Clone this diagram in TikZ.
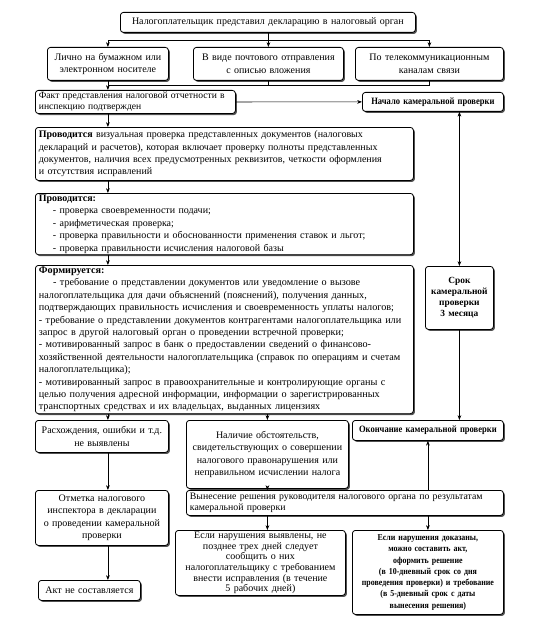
\documentclass[tikz,border=0pt]{standalone}
\usepackage{fontspec}
\setmainfont{Liberation Serif}
\newfontfamily\narrowserif{Liberation Serif}[FakeStretch=0.88]
\usetikzlibrary{arrows.meta,positioning,shadows}

\begin{document}
\begin{tikzpicture}[
  x=1pt, y=1pt,
  font=\fontsize{10}{12.4}\selectfont,
  process/.style={rectangle, draw, line width=0.8pt, rounded corners=3pt, fill=white, anchor=north west,
    inner xsep=3.5pt, inner ysep=1.5pt,
    drop shadow={shadow xshift=1.5pt, shadow yshift=-1.5pt, fill=black!80, opacity=0.85}},
  milestone/.style={process, font=\narrowserif\fontsize{9.7}{11}\selectfont\bfseries, align=center},
  arrow/.style={-{Stealth[length=1.7mm, width=1.3mm]}, semithick}
]
\useasboundingbox (0,0) rectangle (553,-623);

\node[process, align=center, text width=288pt, minimum height=20pt] (decl) at (120,-12) {Налогоплательщик представил декларацию в налоговый орган};
\node[process, align=center, text width=114pt, minimum height=33pt] (paper) at (47,-47) {Лично на бумажном или\\электронном носителе};
\node[process, align=center, text width=143pt, minimum height=33pt] (post) at (193,-47) {В виде почтового отправления\\с описью вложения};
\node[process, align=center, text width=141pt, minimum height=33pt] (telecom) at (355,-47) {По телекоммуникационным\\каналам связи};
\node[process, align=left, text width=193pt, minimum height=23pt, font=\fontsize{9.6}{11.5}\selectfont] (fact) at (35,-90) {Факт представления налоговой отчетности в\\инспекцию подтвержден};
\node[milestone, text width=134pt, minimum height=19pt] (start) at (362,-92) {Начало камеральной проверки};
\node[process, align=left, text width=371pt, minimum height=53pt] (visual) at (35,-127) {\textbf{Проводится} визуальная проверка представленных документов (налоговых\\деклараций и расчетов), которая включает проверку полноты представленных\\документов, наличия всех предусмотренных реквизитов, четкости оформления\\и отсутствия исправлений};
\node[process, align=left, text width=371pt, minimum height=59pt] (checks) at (35,-193) {\textbf{Проводится:}\\
  \hspace*{1.4em}- проверка своевременности подачи;\\
  \hspace*{1.4em}- арифметическая проверка;\\
  \hspace*{1.4em}- проверка правильности и обоснованности применения ставок и льгот;\\
  \hspace*{1.4em}- проверка правильности исчисления налоговой базы};
\node[process, align=left, text width=371pt, minimum height=142pt, font=\fontsize{10.2}{12.4}\selectfont] (requests) at (35,-265) {\textbf{Формируется:}\\
  \hspace*{1.4em}- требование о представлении документов или уведомление о вызове\\
  налогоплательщика для дачи объяснений (пояснений), получения данных,\\
  подтверждающих правильность исчисления и своевременность уплаты налогов;\\
  - требование о представлении документов контрагентами налогоплательщика или\\
  запрос в другой налоговый орган о проведении встречной проверки;\\
  - мотивированный запрос в банк о предоставлении сведений о финансово-\\
  хозяйственной деятельности налогоплательщика (справок по операциям и счетам\\
  налогоплательщика);\\
  - мотивированный запрос в правоохранительные и контролирующие органы с\\
  целью получения адресной информации, информации о зарегистрированных\\
  транспортных средствах и их владельцах, выданных лицензиях};
\node[milestone, text width=61pt, minimum height=63pt, font=\fontsize{9.4}{10.8}\selectfont\bfseries] (term) at (425,-266) {Срок\\камеральной\\проверки\\3 месяца};
\node[process, align=center, text width=126pt, minimum height=32pt] (noerr) at (35,-420) {Расхождения, ошибки и т.д.\\не выявлены};
\node[process, align=center, text width=155pt, minimum height=68pt] (offence) at (186,-420) {Наличие обстоятельств,\\свидетельствующих о совершении\\налогового правонарушения или\\неправильном исчислении налога};
\node[milestone, text width=144pt, minimum height=20pt] (finish) at (352,-420) {Окончание камеральной проверки};
\node[process, align=center, text width=126pt, minimum height=55pt] (mark) at (35,-490) {Отметка налогового\\инспектора в декларации\\о проведении камеральной\\проверки};
\node[process, align=left, text width=310pt, minimum height=25pt, font=\fontsize{9.8}{11.5}\selectfont] (decision) at (186,-490) {Вынесение решения руководителя налогового органа по результатам\\камеральной проверки};
\node[process, align=center, text width=95pt, minimum height=20pt] (noact) at (38,-580) {Акт не составляется};
\node[process, align=center, text width=163pt, minimum height=65pt, font=\fontsize{10}{10.6}\selectfont] (found) at (175,-530) {Если нарушения выявлены, не\\позднее трех дней следует\\сообщить о них\\налогоплательщику с требованием\\внести исправления (в течение\\5 рабочих дней)};
\node[milestone, text width=144pt, minimum height=84pt, font=\narrowserif\fontsize{9}{11.3}\selectfont\bfseries] (proven) at (352,-530) {Если нарушения доказаны,\\можно составить акт,\\оформить решение\\(в 10-дневный срок со дня\\проведения проверки) и требование\\(в 5-дневный срок с даты\\вынесения решения)};

% ways of filing
\coordinate (split) at (decl.south |- 0,-40);
\coordinate (merge) at (paper.south |- 0,-85);
\draw (decl.south) -- (split);
\draw[arrow] (split) -| (paper.north);
\draw[arrow] (split) -- (post.north |- split) -- (post.north);
\draw[arrow] (split) -| (telecom.north);
\draw (paper.south) -- (merge) -| (telecom.south);
\draw (post.south) -- (post.south |- merge);
\draw[arrow] (merge) -- (fact.north -| merge);

% left column
\draw[arrow] (fact.east) -- (start.west);
\draw[arrow] (fact.south -| paper) -- (visual.north -| paper);
\draw[arrow] (visual.south -| paper) -- (checks.north -| paper);
\draw[arrow] (checks.south -| paper) -- (requests.north -| paper);
\draw[arrow] (requests.south -| paper) -- (noerr.north -| paper);
\draw[arrow] (requests.south -| offence) -- (offence.north);
\draw[arrow] (noerr.south -| paper) -- (mark.north -| paper);
\draw[arrow] (mark.south -| paper) -- (noact.north -| paper);

% terms of the audit
\draw[{Stealth[length=1.7mm, width=1.3mm]}-{Stealth[length=1.7mm, width=1.3mm]}, semithick] (start.south -| term) -- (term.north);
\draw[arrow] (term.south) -- (finish.north -| term);

% decision
\draw[arrow] (offence.south) -- (decision.north -| offence);
\draw[arrow] (decision.north -| finish) -- (finish.south);
\draw[arrow] (decision.south -| offence) -- (found.north -| offence);
\draw[arrow] (decision.south -| finish) -- (proven.north -| finish);
\end{tikzpicture}
\end{document}
